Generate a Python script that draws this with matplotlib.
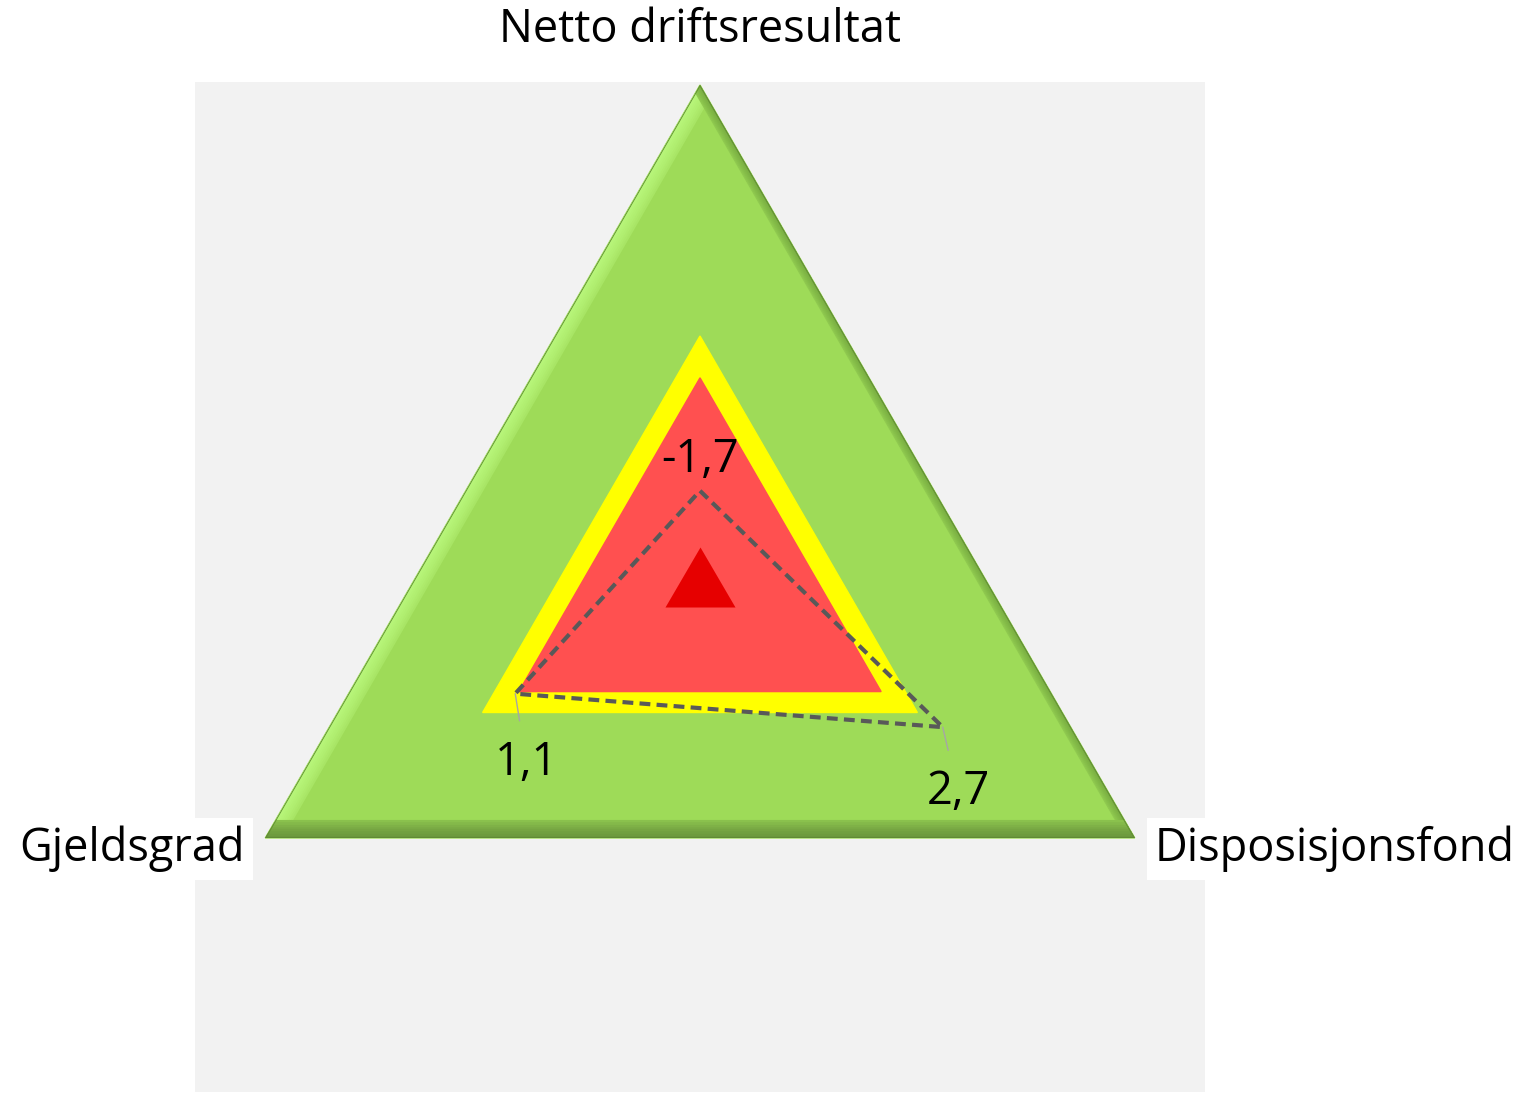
import numpy as np
import matplotlib
matplotlib.use('Agg')
import matplotlib.pyplot as plt
from matplotlib.colors import to_rgb

plt.rcParams['font.family'] = ['Open Sans', 'DejaVu Sans']

# data
categories = ['Netto driftsresultat', 'Disposisjonsfond', 'Gjeldsgrad']
values = [-1.7, 2.7, 1.1]
value_labels = ['-1,7', '2,7', '1,1']
green_level = [8, 8, 8]
yellow_level = [2, 2, 2]
red_level = [1, 1, 1]
center_level = -4
rmin, rmax = -4, 8

# Excel radar goes clockwise from the top
angles = np.deg2rad([90, -30, 210])


def to_xy(vals):
    r = (np.asarray(vals, dtype=float) - rmin) / (rmax - rmin)
    return r * np.cos(angles), r * np.sin(angles)


def blend(c1, c2, t):
    a, b = np.array(to_rgb(c1)), np.array(to_rgb(c2))
    return tuple(a + (b - a) * t)


fig = plt.figure(figsize=(15.24, 10.96), dpi=100)
ax = fig.add_axes([195 / 1524, 4 / 1096, 1010 / 1524, 1010 / 1096])
ax.set_xlim(-1.006, 1.006)
ax.set_ylim(-1.006, 1.006)
ax.set_aspect('equal')
ax.axis('off')
ax.add_patch(plt.Rectangle((-1.006, -1.006), 2.012, 2.012, color='#f2f2f2', zorder=0))

# green area with a soft bevel look
base = '#9edb58'
gx, gy = to_xy(green_level)
green = ax.fill(gx, gy, color=base, zorder=1)[0]
sides = [
    ((2, 0), '#b8f67a', 22),   # left highlight
    ((0, 1), '#7aaf42', 12),   # right shade
    ((1, 2), '#6a963c', 26),   # bottom shade
]
for (i, j), col, w in sides:
    for k, t in enumerate(np.linspace(0.2, 1, 8)):
        width = w * (1 - k / 8)
        ln, = ax.plot([gx[i], gx[j]], [gy[i], gy[j]], color=blend(base, col, t ** 0.6),
                      lw=width, zorder=2, solid_capstyle='butt')
        ln.set_clip_path(green)
ln, = ax.plot(np.r_[gx, gx[0]], np.r_[gy, gy[0]], color='#5f8a34', lw=1.2, zorder=3)
ln.set_clip_path(green)

yx, yy = to_xy(yellow_level)
ax.fill(yx, yy, color='#ffff00', zorder=4)
rx, ry = to_xy(red_level)
ax.fill(rx, ry, color='#ff5050', zorder=5)

# centre marker
cx, cy = to_xy([center_level] * 3)
tri = [(0, 40), (-35, -20), (35, -20)]
ax.scatter(cx[0], cy[0], marker=tri, s=3318, color='#e60000', lw=0, zorder=6)

# data line
dx, dy = to_xy(values)
ax.plot(np.r_[dx, dx[0]], np.r_[dy, dy[0]], color='#595959', lw=3,
        dashes=(2.6, 1.5), zorder=7)

offsets = [(0, 22), (11, -47), (8, -50)]
for i, lab in enumerate(value_labels):
    arrow = None
    if i > 0:
        arrow = dict(arrowstyle='-', color='#a6a6a6', lw=1, shrinkA=12, shrinkB=0)
    ax.annotate(lab, (dx[i], dy[i]), xytext=offsets[i], textcoords='offset points',
                ha='center', va='center', fontsize=32.5, color='black', zorder=8,
                arrowprops=arrow)

# category labels
ax.text(0, 1.11, categories[0], ha='center', va='center', fontsize=32.5, clip_on=False)
ax.text(0.906, -0.522, categories[1], ha='left', va='center', fontsize=32.5, clip_on=False,
        bbox=dict(facecolor='white', edgecolor='none', pad=6), zorder=9)
ax.text(-0.906, -0.522, categories[2], ha='right', va='center', fontsize=32.5, clip_on=False,
        bbox=dict(facecolor='white', edgecolor='none', pad=6), zorder=9)

fig.savefig('out.png', dpi=100)
